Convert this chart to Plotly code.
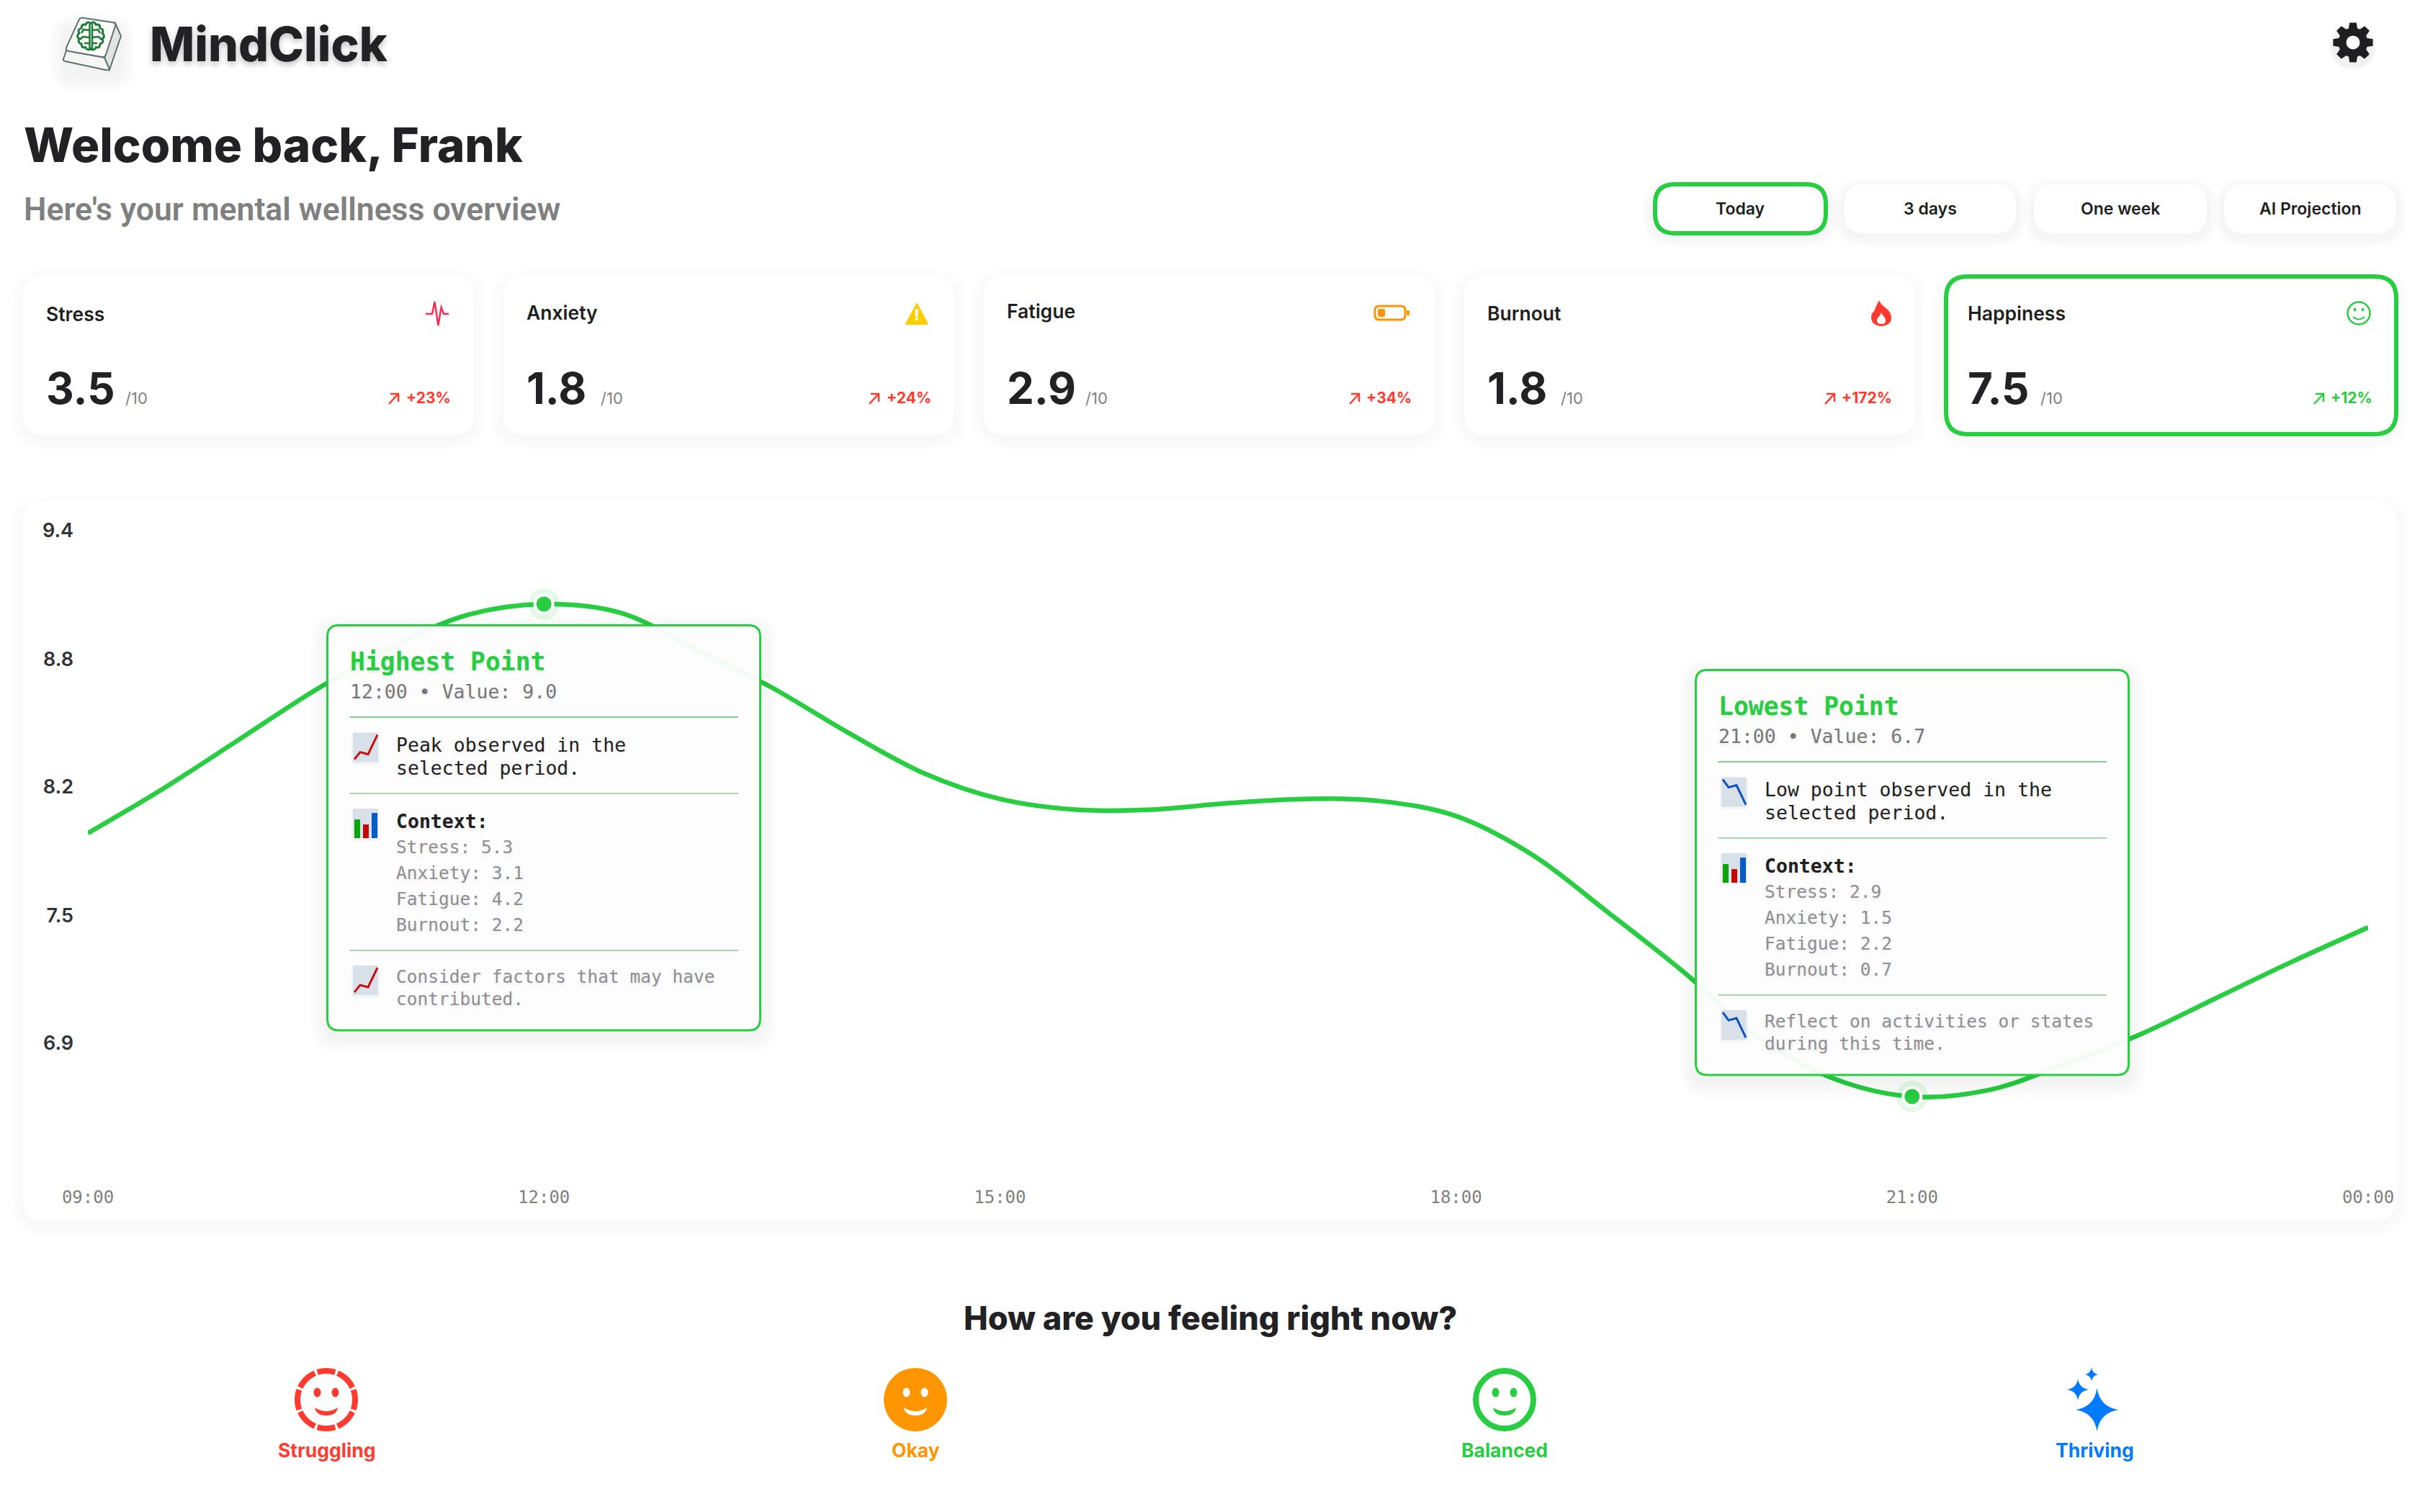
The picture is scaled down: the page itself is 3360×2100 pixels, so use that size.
import math

import plotly.graph_objects as go

W = 3360
H = 2100
# a pagina tem margem de 8px no body
BODY_MARGIN = 8

GREEN = '#28CD41'
RED = '#FF3B30'
ORANGE = '#FF9500'
BLUE = '#007AFF'
DARK = '#1F1F21'
GREY = '#808080'
LIGHT_GREY = '#8E8E93'
SANS = 'Inter'
MONO = 'DejaVu Sans Mono'

# Dados do grafico
HOURS = [9, 9.5, 10, 10.5, 11, 11.5, 12, 12.5, 13, 13.5, 14, 14.5, 15, 15.5, 16, 16.5,
         17, 17.5, 18, 18.5, 19, 19.5, 20, 20.5, 21, 21.5, 22, 22.5, 23, 23.5, 24]
HAPPINESS = [7.93, 8.14, 8.37, 8.60, 8.80, 8.95, 9.0, 8.96, 8.79, 8.61, 8.40, 8.21, 8.09, 8.04, 8.04, 8.07,
             8.09, 8.08, 8.01, 7.83, 7.56, 7.28, 6.97, 6.78, 6.70, 6.73, 6.85, 6.99, 7.16, 7.33, 7.49]
X_TICKS = [9, 12, 15, 18, 21, 24]
X_LABELS = ['09:00', '12:00', '15:00', '18:00', '21:00', '00:00']
Y_TICKS = [9.343, 8.744, 8.146, 7.547, 6.949]
Y_LABELS = ['9.4', '8.8', '8.2', '7.5', '6.9']
MARK_HOURS = [12, 21]
MARK_VALUES = [9.0, 6.7]

CARD_NAMES = ['Stress', 'Anxiety', 'Fatigue', 'Burnout', 'Happiness']
CARD_VALUES = ['3.5', '1.8', '2.9', '1.8', '7.5']
CARD_DELTAS = ['+23%', '+24%', '+34%', '+172%', '+12%']
RANGE_BUTTONS = ['Today', '3 days', 'One week', 'AI Projection']
MOODS = ['Struggling', 'Okay', 'Balanced', 'Thriving']

HIGH_CONTEXT = ['Stress: 5.3', 'Anxiety: 3.1', 'Fatigue: 4.2', 'Burnout: 2.2']
LOW_CONTEXT = ['Stress: 2.9', 'Anxiety: 1.5', 'Fatigue: 2.2', 'Burnout: 0.7']

shapes = []
annotations = []


def fx(x):
    return (x - BODY_MARGIN) / W


def fy(y):
    return 1 - (y - BODY_MARGIN) / H


def make_path(cmds):
    out = []
    for c in cmds:
        if c == 'Z':
            out.append('Z')
            continue
        coords = ' '.join(f'{fx(x):.6f},{fy(y):.6f}' for x, y in c[1:])
        out.append(f'{c[0]} {coords}')
    return ' '.join(out)


def add_path(cmds, fill=None, color=None, width=0, layer='above'):
    shapes.append(dict(
        type='path', path=make_path(cmds), xref='paper', yref='paper', layer=layer,
        fillcolor=fill if fill else 'rgba(0,0,0,0)',
        line=dict(color=color if color else 'rgba(0,0,0,0)', width=width)
    ))


def poly(points, fill=None, color=None, width=0, closed=False, layer='above'):
    cmds = [('M', points[0])] + [('L', p) for p in points[1:]]
    if closed:
        cmds.append('Z')
    add_path(cmds, fill, color, width, layer)


def rrect(x0, y0, x1, y1, r, fill=None, color=None, width=0, layer='above'):
    cmds = [
        ('M', (x0 + r, y0)), ('L', (x1 - r, y0)), ('Q', (x1, y0), (x1, y0 + r)),
        ('L', (x1, y1 - r)), ('Q', (x1, y1), (x1 - r, y1)),
        ('L', (x0 + r, y1)), ('Q', (x0, y1), (x0, y1 - r)),
        ('L', (x0, y0 + r)), ('Q', (x0, y0), (x0 + r, y0)), 'Z'
    ]
    add_path(cmds, fill, color, width, layer)


def shadow(x0, y0, x1, y1, r, dy=6, layer='below', alpha=0.005, steps=6, spread=3):
    for i in range(steps, 0, -1):
        g = i * spread
        rrect(x0 - g, y0 - g + dy, x1 + g, y1 + g + dy, r + g, fill=f'rgba(0,0,0,{alpha})', layer=layer)


def circle(cx, cy, rx, ry=None, fill=None, color=None, width=0, layer='above'):
    ry = rx if ry is None else ry
    shapes.append(dict(
        type='circle', xref='paper', yref='paper', layer=layer,
        x0=fx(cx - rx), x1=fx(cx + rx), y0=fy(cy + ry), y1=fy(cy - ry),
        fillcolor=fill if fill else 'rgba(0,0,0,0)',
        line=dict(color=color if color else 'rgba(0,0,0,0)', width=width)
    ))


def txt(x, y, text, size, color=DARK, weight=400, family=SANS, anchor='left', shadow_css=None):
    font = dict(family=family, size=size, color=color, weight=weight)
    if shadow_css:
        font['shadow'] = shadow_css
    annotations.append(dict(
        x=fx(x), y=fy(y), xref='paper', yref='paper', text=text, showarrow=False,
        xanchor=anchor, yanchor='middle', align=anchor, font=font,
        borderpad=0, borderwidth=0
    ))


def face(cx, cy, color, fore=None):
    # olhos e boca dos icones de humor
    fore = fore if fore else color
    circle(cx - 12.5, cy - 10, 5, 6.5, fill=fore)
    circle(cx + 12.5, cy - 10, 5, 6.5, fill=fore)
    add_path([
        ('M', (cx - 16, cy + 11)), ('Q', (cx, cy + 21), (cx + 16, cy + 11)),
        ('Q', (cx + 14, cy + 22), (cx, cy + 22)), ('Q', (cx - 14, cy + 22), (cx - 16, cy + 11)), 'Z'
    ], fill=fore)


def sparkle(cx, cy, r, color):
    k = 0.13 * r
    add_path([
        ('M', (cx, cy - r)), ('Q', (cx + k, cy - k), (cx + r, cy)),
        ('Q', (cx + k, cy + k), (cx, cy + r)), ('Q', (cx - k, cy + k), (cx - r, cy)),
        ('Q', (cx - k, cy - k), (cx, cy - r)), 'Z'
    ], fill=color)


def emoji_icon(x0, y0, kind):
    rrect(x0 - 2, y0 + 2, x0 + 37, y0 + 45, 3, fill='rgba(0,0,0,0.03)')
    rrect(x0, y0, x0 + 35, y0 + 41, 1, fill='#D8E1E9')
    if kind == 'up':
        pts = [(2, 37), (10, 27), (21, 30), (34, 3)]
        poly([(x0 + a, y0 + b) for a, b in pts], color='#C40F0F', width=3)
    elif kind == 'down':
        pts = [(2, 3), (10, 14), (21, 11), (34, 38)]
        poly([(x0 + a, y0 + b) for a, b in pts], color='#0A50C0', width=3)
    else:
        for a, b, c, col in [(2, 10, 15, '#0BA40B'), (14, 22, 22, '#C00808'), (26, 34, 6, '#0A5CC5')]:
            poly([(x0 + a, y0 + c), (x0 + b, y0 + c), (x0 + b, y0 + 41), (x0 + a, y0 + 41)], fill=col, closed=True)


def tooltip(x0, y0, title, sub, msg, context, foot, kind):
    x1, y1 = x0 + 601, y0 + 562.5
    shadow(x0, y0, x1, y1, 16, dy=8, layer='above', alpha=0.007, steps=6, spread=4)
    rrect(x0, y0, x1, y1, 16, fill='rgba(253,253,253,0.96)', color=GREEN, width=3)
    tx = x0 + 95
    soft = '0 2px 4px rgba(0,0,0,0.10)'
    txt(x0 + 31, y0 + 50.5, title, 34.7, GREEN, 700, MONO, shadow_css=soft)
    txt(x0 + 31, y0 + 91.5, sub, 26.5, '#77777A', 400, MONO, shadow_css=soft)
    dx0, dx1 = x0 + 31, x0 + 570.5
    poly([(dx0, y0 + 127.5), (dx1, y0 + 127.5)], color='#83CF92', width=2)
    emoji_icon(x0 + 35.5, y0 + 149, kind)
    txt(tx, y0 + 165.5, msg[0], 26.5, DARK, 400, MONO, shadow_css=soft)
    txt(tx, y0 + 197.5, msg[1], 26.5, DARK, 400, MONO, shadow_css=soft)
    poly([(dx0, y0 + 233.5), (dx1, y0 + 233.5)], color='#A5D8AE', width=2)
    emoji_icon(x0 + 35.5, y0 + 254.5, 'bar')
    txt(tx, y0 + 271.5, 'Context:', 26.5, DARK, 700, MONO, shadow_css=soft)
    for i, line in enumerate(context):
        txt(tx, y0 + 307.5 + i * 36.2, line, 24.5, LIGHT_GREY, 400, MONO, shadow_css=soft)
    poly([(dx0, y0 + 451.5), (dx1, y0 + 451.5)], color='#A5D8AE', width=2)
    emoji_icon(x0 + 35.5, y0 + 472.5, kind)
    txt(tx, y0 + 487.5, foot[0], 24.5, LIGHT_GREY, 400, MONO, shadow_css=soft)
    txt(tx, y0 + 518.5, foot[1], 24.5, LIGHT_GREY, 400, MONO, shadow_css=soft)


# ---- Cabecalho ----
shadow(92, 35, 165, 97, 14, dy=8, layer='below', alpha=0.008, steps=6, spread=4)
KEY_LINE = '#5E7370'
poly([(160, 32), (168, 50), (152, 97), (145, 80)], fill='#E4E4E0', color=KEY_LINE, width=2, closed=True)
add_path([('M', (92, 70)), ('L', (88, 82)), ('Q', (87, 84), (90, 85)), ('L', (146, 97)),
          ('Q', (151, 98), (152, 96)), ('L', (145, 80)), 'Z'], fill='#F6F6F4', color=KEY_LINE, width=2)
add_path([('M', (110, 27)), ('Q', (111, 24), (116, 25)), ('L', (156, 31)), ('Q', (161, 32), (160, 36)),
          ('L', (147, 76)), ('Q', (146, 80), (141, 79)), ('L', (95, 71)), ('Q', (91, 70), (92, 66)), 'Z'],
         fill='#FBFBFA', color=KEY_LINE, width=2)
BRAIN = '#1C7A36'
lobes = 14
brain_cmds = []
for i in range(lobes + 1):
    a = 2 * math.pi * i / lobes
    p = (126 + 16.5 * math.sin(a), 50 - 17.5 * math.cos(a))
    if i == 0:
        brain_cmds.append(('M', p))
    else:
        m = 2 * math.pi * (i - 0.5) / lobes
        brain_cmds.append(('Q', (126 + 21 * math.sin(m), 50 - 22 * math.cos(m)), p))
add_path(brain_cmds, color=BRAIN, width=3)
poly([(124.5, 33), (124.5, 68)], color=BRAIN, width=2.5)
poly([(128, 33), (128, 68)], color=BRAIN, width=2.5)
for pts in ([(124, 42), (116, 41), (113, 46)], [(124, 52), (115, 51), (111, 55)], [(124, 60), (117, 60)],
            [(128, 42), (136, 41), (139, 46)], [(128, 52), (137, 51), (141, 55)], [(128, 60), (135, 60)]):
    poly(pts, color=BRAIN, width=2.5)

txt(208, 61, 'MindClick', 66, '#222224', 800, shadow_css='0 4px 8px rgba(0,0,0,0.25)')
txt(33, 202, 'Welcome back, Frank', 65.4, '#222224', 800)
txt(33, 291, "Here's your mental wellness overview", 44.5, GREY, 600, family='Roboto')

# Engrenagem
gcx, gcy = 3267, 59
for g in [33, 31, 29]:
    circle(gcx, gcy + 6, g, fill='rgba(0,0,0,0.02)', layer='below')
gear = []
for i in range(8):
    a = i * math.pi / 4
    for da, r in [(-0.30, 20.5), (-0.17, 28), (0.17, 28), (0.30, 20.5)]:
        gear.append((gcx + r * math.sin(a + da), gcy - r * math.cos(a + da)))
poly(gear, fill=DARK, closed=True)
circle(gcx, gcy, 15.5, fill=DARK)
circle(gcx, gcy, 9.5, fill='#FFFFFF')

# ---- Botoes de periodo ----
button_x = [(2295, 2538), (2560, 2799), (2824, 3064), (3088, 3327)]
for i, name in enumerate(RANGE_BUTTONS):
    x0, x1 = button_x[i]
    if i == 0:
        shadow(x0, 256, x1, 324, 28, dy=5, alpha=0.007, steps=5, spread=3)
        rrect(x0 + 3, 256, x1 - 3, 324, 27, fill='#FFFFFF', color=GREEN, width=6, layer='below')
    else:
        shadow(x0, 256, x1, 324, 28, dy=5, alpha=0.006, steps=5, spread=3)
        rrect(x0, 256, x1, 324, 28, fill='#FFFFFF', layer='below')
    txt((x0 + x1) / 2, 290, name, 23, DARK, 600, anchor='center')

# ---- Cartoes ----
card_x = [32, 699, 1366, 2033, 2700]
arrow_x = [507, 507, 507, 500, 512]
label_y = [436, 434, 432, 435, 435]
unit_x = [142, 135, 140.5, 134, 133]
for i, name in enumerate(CARD_NAMES):
    x0 = card_x[i]
    x1 = x0 + 626
    shadow(x0, 383, x1, 604, 30, dy=6)
    if name == 'Happiness':
        rrect(x0 + 2, 384, x1 + 1, 603, 30, fill='#FFFFFF', color=GREEN, width=6, layer='below')
    else:
        rrect(x0, 383, x1, 604, 30, fill='#FFFFFF', layer='below')
    txt(x0 + 32, label_y[i], name, 26.5, DARK, 600)
    txt(x0 + 32, 539, CARD_VALUES[i], 60, '#222224', 700)
    txt(x0 + unit_x[i], 553, '/10', 22, GREY, 400)
    delta_color = GREEN if name == 'Happiness' else RED
    txt(x0 + 594, 553, CARD_DELTAS[i], 21, delta_color, 700, anchor='right')
    ax = x0 + arrow_x[i]
    poly([(ax + 1, 561), (ax + 14, 547)], color=delta_color, width=2.5)
    poly([(ax + 3, 547), (ax + 14, 547), (ax + 14, 558)], color=delta_color, width=2.5)

# Icones dos cartoes
poly([(591, 436), (600, 436), (603.5, 419), (608.4, 452), (612.6, 427), (616, 436), (623, 436)],
     color='#FF2D55', width=2.5)
add_path([('M', (1273, 420)), ('L', (1288, 448)), ('Q', (1290, 451), (1286, 451)),
          ('L', (1260, 451)), ('Q', (1256, 451), (1258, 448)), 'Z'], fill='#FFCC00')
txt(1273, 437, '!', 22, '#FFFFFF', 800, anchor='center')
rrect(1909, 425, 1951, 444, 6, color=ORANGE, width=3)
rrect(1913, 429, 1923, 440, 2, fill=ORANGE)
rrect(1953, 431, 1957, 438, 1, fill=ORANGE)
add_path([('M', (2609, 417)), ('C', (2612, 427), (2626, 428), (2626, 442)),
          ('C', (2626, 449), (2619, 453), (2612, 453)),
          ('C', (2604, 453), (2598, 448), (2598, 441)),
          ('C', (2598, 434), (2603, 433), (2604, 427)), 'Z'], fill=RED)
add_path([('M', (2612, 434)), ('C', (2614, 439), (2618, 441), (2618, 445)),
          ('C', (2618, 449), (2615, 450), (2612, 450)),
          ('C', (2608, 450), (2606, 448), (2606, 445)),
          ('C', (2606, 441), (2610, 440), (2612, 434)), 'Z'], fill='#FFFFFF')
circle(3275, 435, 15.5, color=GREEN, width=2.5)
circle(3269.5, 430, 1.8, 2.6, fill=GREEN)
circle(3280.5, 430, 1.8, 2.6, fill=GREEN)
add_path([('M', (3267, 440)), ('Q', (3275, 447), (3283, 440))], color=GREEN, width=2)

# ---- Cartao do grafico ----
shadow(32, 696, 3328, 1695, 30, dy=6)
rrect(32, 696, 3328, 1695, 30, fill='#FFFFFF', layer='below')

# ---- Caixas de destaque ----
tooltip(454.5, 868.6, 'Highest Point', '12:00 • Value: 9.0',
        ['Peak observed in the', 'selected period.'], HIGH_CONTEXT,
        ['Consider factors that may have', 'contributed.'], 'up')
tooltip(2354.5, 930.6, 'Lowest Point', '21:00 • Value: 6.7',
        ['Low point observed in the', 'selected period.'], LOW_CONTEXT,
        ['Reflect on activities or states', 'during this time.'], 'down')

# ---- Humor ----
txt(1680, 1830, 'How are you feeling right now?', 45, '#222224', 800, anchor='center')
mood_x = [453, 1271, 2089, 2908]
mood_colors = [RED, ORANGE, GREEN, BLUE]
for i, name in enumerate(MOODS):
    txt(mood_x[i], 2014, name, 26.5, mood_colors[i], 700, anchor='center')

cx, cy = mood_x[0], 1944
segments = [(-18, 18), (23, 65), (70, 110), (115, 157), (162, 198), (203, 245), (250, 290), (295, 337)]
for a0, a1 in segments:
    pts = []
    for k in range(9):
        a = math.radians(a0 + (a1 - a0) * k / 8)
        pts.append((cx + 40 * math.sin(a), cy - 40 * math.cos(a)))
    poly(pts, color=RED, width=8)
face(cx, cy, RED)
circle(mood_x[1], 1944, 44, fill=ORANGE)
face(mood_x[1], 1944, ORANGE, '#FFFFFF')
circle(mood_x[2], 1944, 40, color=GREEN, width=8)
face(mood_x[2], 1944, GREEN)
sparkle(2911.6, 1958, 30, BLUE)
sparkle(2885, 1930, 15, BLUE)
sparkle(2904, 1909, 9.5, BLUE)

# ---- Figura ----
PLOT_LEFT, PLOT_RIGHT = 122, 3288
PLOT_TOP, PLOT_BOTTOM = 700, 1640
Y_PEAK_PX = 839
PX_PER_UNIT = 297.4

fig = go.Figure()
fig.add_trace(go.Scatter(
    x=HOURS, y=HAPPINESS, mode='lines', cliponaxis=False, hoverinfo='skip',
    line=dict(color=GREEN, width=6.5, shape='spline', smoothing=1.0)
))
fig.add_trace(go.Scatter(
    x=MARK_HOURS, y=MARK_VALUES, mode='markers', cliponaxis=False, hoverinfo='skip',
    marker=dict(color='rgba(40,205,65,0.12)', size=44)
))
fig.add_trace(go.Scatter(
    x=MARK_HOURS, y=MARK_VALUES, mode='markers', cliponaxis=False, hoverinfo='skip',
    marker=dict(color=GREEN, size=25, line=dict(color='#FFFFFF', width=4))
))

fig.update_layout(
    width=W, height=H, showlegend=False,
    margin=dict(l=0, r=0, t=0, b=0, autoexpand=False),
    paper_bgcolor='#FFFFFF', plot_bgcolor='rgba(0,0,0,0)',
    shapes=shapes, annotations=annotations,
    font=dict(family=SANS),
    xaxis=dict(
        domain=[fx(PLOT_LEFT), fx(PLOT_RIGHT)], range=[9, 24],
        tickvals=X_TICKS, ticktext=X_LABELS, showgrid=False, zeroline=False, showline=False,
        ticks='', ticklabelstandoff=6, tickangle=0,
        tickfont=dict(family=MONO, size=24, color=GREY)
    ),
    yaxis=dict(
        domain=[fy(PLOT_BOTTOM), fy(PLOT_TOP)],
        range=[9 - (PLOT_BOTTOM - Y_PEAK_PX) / PX_PER_UNIT, 9 + (Y_PEAK_PX - PLOT_TOP) / PX_PER_UNIT],
        tickvals=Y_TICKS, ticktext=Y_LABELS, showgrid=False, zeroline=False, showline=False,
        ticks='', ticklabelstandoff=19,
        tickfont=dict(family=SANS, size=27, color='#333336', weight=600)
    ),
)

fig.write_html("out.html")
